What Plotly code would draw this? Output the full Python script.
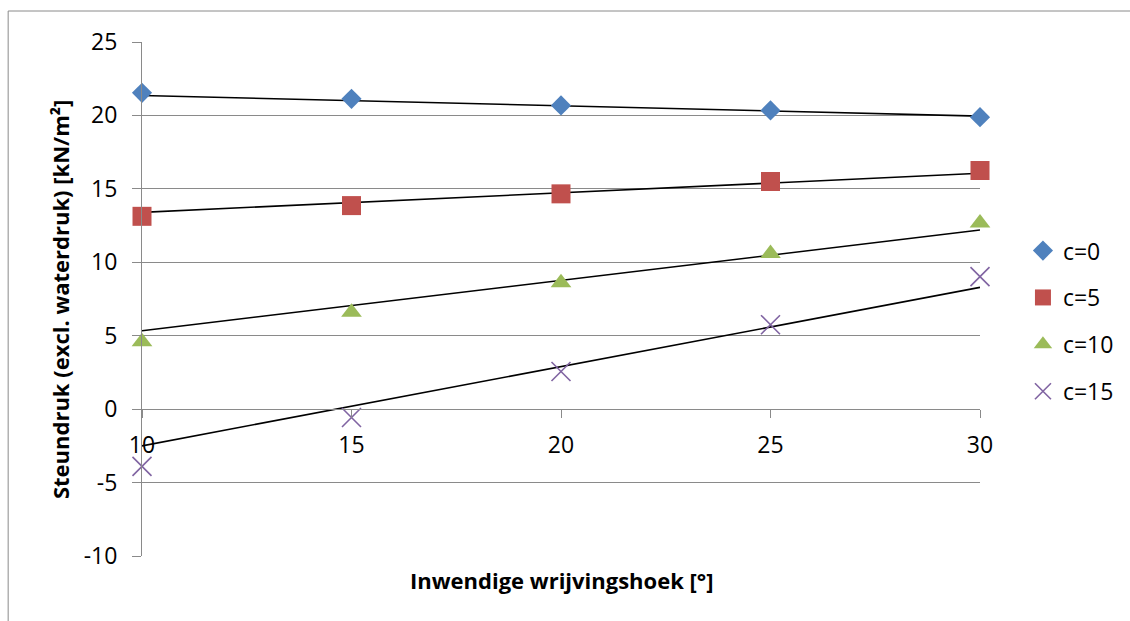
import plotly.graph_objects as go

# Inwendige wrijvingshoek [°]
hoek = [10, 15, 20, 25, 30]

# Steundruk (excl. waterdruk) [kN/m²] per cohesie
steun_c0 = [21.54, 21.13, 20.68, 20.34, 19.88]
steun_c5 = [13.13, 13.86, 14.66, 15.50, 16.25]
steun_c10 = [4.59, 6.59, 8.60, 10.59, 12.67]
steun_c15 = [-3.90, -0.57, 2.56, 5.75, 9.02]

# Lijnen (begin- en eindwaarde) bij 10° en 30°
lijn_hoek = [10, 30]
lijn_c0 = [21.36, 19.95]
lijn_c5 = [13.40, 16.06]
lijn_c10 = [5.34, 12.20]
lijn_c15 = [-2.50, 8.29]

labels = ["c=0", "c=5", "c=10", "c=15"]
y_ticks = [-10, -5, 0, 5, 10, 15, 20, 25]
x_ticks = [10, 15, 20, 25, 30]

FONT = "'Open Sans', sans-serif"
GRID = "#8a8a8a"

fig = go.Figure()

# trend lines (drawn first, under the markers)
for ly in [lijn_c0, lijn_c5, lijn_c10, lijn_c15]:
    fig.add_trace(go.Scatter(
        x=lijn_hoek, y=ly, mode="lines",
        line=dict(color="black", width=1.6),
        showlegend=False, hoverinfo="skip", cliponaxis=False,
    ))

series = [
    (steun_c0, dict(symbol="diamond", size=15.5, color="#4F81BD")),
    (steun_c5, dict(symbol="square", size=19, color="#C0504D")),
    (steun_c10, dict(symbol="triangle-up", size=18, color="#9BBB59")),
    (steun_c15, dict(symbol="x-thin", size=19, color="#8064A2",
                     line=dict(color="#8064A2", width=1.6))),
]
for i, (vals, mk) in enumerate(series):
    fig.add_trace(go.Scatter(
        x=hoek, y=vals, mode="markers", name=labels[i],
        marker=mk, cliponaxis=False, legendgroup=labels[i],
    ))

# chart frame: top and left edges (the others fall outside the page)
left_x = (8 - 142) / 839
top_y = (556 - 11) / 514
fig.add_shape(type="line", xref="paper", yref="paper",
              x0=left_x, x1=(1140 - 142) / 839, y0=top_y, y1=top_y,
              line=dict(color="#8a8a8a", width=1), layer="below")
fig.add_shape(type="line", xref="paper", yref="paper",
              x0=left_x, x1=left_x, y0=(556 - 640) / 514, y1=top_y,
              line=dict(color="#8a8a8a", width=1), layer="below")

fig.update_layout(
    width=1130, height=621,
    margin=dict(l=142, r=149, t=42, b=65),
    paper_bgcolor="white", plot_bgcolor="white",
    font=dict(family=FONT, size=23, color="black"),
    showlegend=True,
    legend=dict(x=1.05, y=0.636, xanchor="left", yanchor="top",
                font=dict(size=23, family=FONT), tracegroupgap=14,
                traceorder="grouped", itemwidth=30,
                bgcolor="rgba(0,0,0,0)"),
    xaxis=dict(range=[10, 30], tickvals=x_ticks, ticktext=[str(v) for v in x_ticks],
               showgrid=False, zeroline=False, showline=True, linecolor=GRID,
               linewidth=1, ticks="outside", ticklen=8, tickcolor=GRID,
               anchor="free", position=10 / 35, ticklabelstandoff=7,
               tickfont=dict(size=23)),
    yaxis=dict(range=[-10, 25], tickvals=y_ticks, ticktext=[str(v) for v in y_ticks],
               showgrid=True, gridcolor=GRID, gridwidth=1, zeroline=False,
               showline=True, linecolor=GRID, linewidth=1, ticks="outside",
               ticklen=9, tickcolor=GRID, ticklabelstandoff=10,
               tickfont=dict(size=23)),
    annotations=[
        dict(text="<b>Inwendige wrijvingshoek [°]</b>", xref="paper", yref="paper",
             x=(563 - 142) / 839, y=(556 - 580) / 514, xanchor="center", yanchor="middle",
             showarrow=False, font=dict(size=22, family=FONT)),
        dict(text="<b>Steundruk (excl. waterdruk) [kN/m²]</b>", xref="paper", yref="paper",
             x=(60 - 142) / 839, y=(556 - 300) / 514, xanchor="center", yanchor="middle",
             textangle=-90, showarrow=False, font=dict(size=22, family=FONT)),
    ],
)

fig.write_html("out.html")
